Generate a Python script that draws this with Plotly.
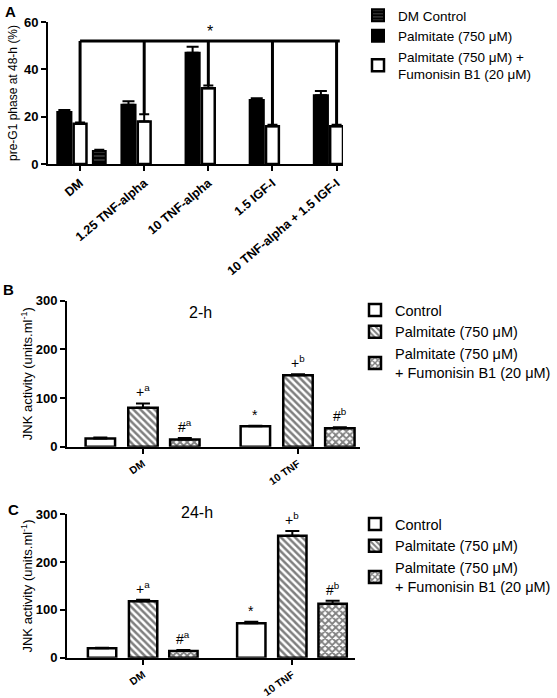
import plotly.graph_objects as go

FONT = "Liberation Sans, Arial, sans-serif"
W, H = 557, 698

# ---------------- Data ----------------
a_categories = ["DM", "1.25 TNF-alpha", "10 TNF-alpha", "1.5 IGF-I", "10 TNF-alpha + 1.5 IGF-I"]
a_dm_control = [5.5, None, None, None, None]
a_dm_control_err = [0.5, None, None, None, None]
a_palmitate = [22, 25, 47, 27, 29]
a_palmitate_err = [0.8, 1.5, 2.5, 0.8, 1.8]
a_fumonisin = [17, 18, 32, 16, 16]
a_fumonisin_err = [0.5, 3.0, 1.2, 0.6, 0.6]
a_bracket_y = 52
a_star_y = 56

jnk_categories = ["DM", "10 TNF"]
b_control = [17, 42]
b_control_err = [2, 1]
b_palmitate = [80, 147]
b_palmitate_err = [9, 2]
b_fumonisin = [15, 38]
b_fumonisin_err = [3, 2]
b_marks = [["", "*"], ["+<sup>a</sup>", "+<sup>b</sup>"], ["#<sup>a</sup>", "#<sup>b</sup>"]]

c_control = [20, 72]
c_control_err = [1, 3]
c_palmitate = [118, 255]
c_palmitate_err = [3, 10]
c_fumonisin = [14, 113]
c_fumonisin_err = [2, 6]
c_marks = [["", "*"], ["+<sup>a</sup>", "+<sup>b</sup>"], ["#<sup>a</sup>", "#<sup>b</sup>"]]

a_ticks = [0, 20, 40, 60]
jnk_ticks = [0, 100, 200, 300]


def px_x(p):
    return p / W


def px_y(p):
    return 1 - p / H


fig = go.Figure()


def err(vals, e, w):
    return dict(type="data", array=e, arrayminus=[0 if v is not None else None for v in vals],
                symmetric=False, color="black", thickness=2, width=w)


# ---------------- Panel A ----------------
fig.add_trace(go.Bar(
    x=a_categories, y=a_dm_control, name="DM Control", xaxis="x", yaxis="y",
    offset=0.3 - 0.1, width=0.2, legend="legend",
    marker=dict(color="black", line=dict(color="black", width=2),
                pattern=dict(shape="-", fgcolor="#9a9a9a", bgcolor="black", size=4, solidity=0.3)),
    error_y=err(a_dm_control, a_dm_control_err, 5)))
fig.add_trace(go.Bar(
    x=a_categories, y=a_palmitate, name="Palmitate (750 μM)", xaxis="x", yaxis="y",
    offset=-0.245 - 0.11, width=0.22, legend="legend",
    marker=dict(color="black", line=dict(color="black", width=2)),
    error_y=err(a_palmitate, a_palmitate_err, 6)))
fig.add_trace(go.Bar(
    x=a_categories, y=a_fumonisin, name="Palmitate (750 μM) +<br>Fumonisin B1 (20 μM)",
    xaxis="x", yaxis="y", offset=-0.1, width=0.2, legend="legend",
    marker=dict(color="white", line=dict(color="black", width=2.5)),
    error_y=err(a_fumonisin, a_fumonisin_err, 5)))

shapes = []
for i, (v, e) in enumerate(zip(a_fumonisin, a_fumonisin_err)):
    shapes.append(dict(type="line", xref="x", yref="y", x0=i, x1=i, y0=v + e, y1=a_bracket_y,
                       line=dict(color="black", width=3)))
shapes.append(dict(type="line", xref="x", yref="y", x0=0, x1=len(a_categories) - 1 + 0.05,
                   y0=a_bracket_y, y1=a_bracket_y, line=dict(color="black", width=3)))

annotations = [
    dict(x=2, y=a_star_y, xref="x", yref="y", text="*", showarrow=False, xshift=2,
         font=dict(family=FONT, size=16, color="black")),
    dict(x=0.005, y=px_y(1), xref="paper", yref="paper", text="<b>A</b>", showarrow=False,
         xanchor="left", yanchor="top", font=dict(family=FONT, size=15, color="black")),
    dict(x=0.002, y=px_y(279), xref="paper", yref="paper", text="<b>B</b>", showarrow=False,
         xanchor="left", yanchor="top", font=dict(family=FONT, size=15, color="black")),
    dict(x=0.010, y=px_y(499), xref="paper", yref="paper", text="<b>C</b>", showarrow=False,
         xanchor="left", yanchor="top", font=dict(family=FONT, size=15, color="black")),
]

# ---------------- Panels B and C ----------------
centers = [-0.275, 0.0, 0.27]
bw = 0.19


def jnk_panel(ctrl, ctrl_e, palm, palm_e, fum, fum_e, marks, xa, ya, leg):
    series = [
        ("Control", ctrl, ctrl_e, dict(color="white", line=dict(color="black", width=2.5))),
        ("Palmitate (750 μM)", palm, palm_e,
         dict(color="white", line=dict(color="black", width=2.5),
              pattern=dict(shape="\\", fgcolor="black", bgcolor="white", size=5, solidity=0.5))),
        ("Palmitate (750 μM)<br>+ Fumonisin B1 (20 μM)", fum, fum_e,
         dict(color="white", line=dict(color="black", width=2.5),
              pattern=dict(shape="x", fgcolor="black", bgcolor="white", size=5, solidity=0.6))),
    ]
    for k, (name, vals, e, mk) in enumerate(series):
        fig.add_trace(go.Bar(
            x=jnk_categories, y=vals, name=name, xaxis=xa, yaxis=ya, legend=leg,
            offset=centers[k] - bw / 2, width=bw, marker=mk,
            error_y=err(vals, e, 7)))
        for i, (v, ee) in enumerate(zip(vals, e)):
            if marks[k][i]:
                annotations.append(dict(
                    x=i + centers[k], y=v + ee, xref=xa, yref=ya, text=marks[k][i],
                    showarrow=False, yanchor="bottom", yshift=1,
                    font=dict(family=FONT, size=14, color="black")))


jnk_panel(b_control, b_control_err, b_palmitate, b_palmitate_err, b_fumonisin, b_fumonisin_err,
          b_marks, "x2", "y2", "legend2")
jnk_panel(c_control, c_control_err, c_palmitate, c_palmitate_err, c_fumonisin, c_fumonisin_err,
          c_marks, "x3", "y3", "legend3")

annotations += [
    dict(x=px_x(200), y=px_y(312), xref="paper", yref="paper", text="2-h", showarrow=False,
         font=dict(family=FONT, size=16, color="black")),
    dict(x=px_x(197), y=px_y(523), xref="paper", yref="paper", text="24-h", showarrow=False,
         font=dict(family=FONT, size=16, color="black")),
]

xcommon = dict(showline=True, linecolor="black", linewidth=2, ticks="outside", tickwidth=2,
               ticklen=5, tickcolor="black", tickangle=-35, showgrid=False, zeroline=False,
               automargin=False,
               tickfont=dict(family=FONT, size=10.5, color="black", weight="bold"), fixedrange=True)
ycommon = dict(showline=True, linecolor="black", linewidth=2, ticks="outside", tickwidth=2,
               ticklen=5, tickcolor="black", showgrid=False, zeroline=False, automargin=False,
               tickfont=dict(family=FONT, size=13, color="black", weight="bold"), fixedrange=True)

legcommon = dict(font=dict(family=FONT, size=14.5, color="black"), bgcolor="rgba(0,0,0,0)",
                 xanchor="left", yanchor="top", tracegroupgap=0, itemwidth=30)

fig.update_layout(
    width=W, height=H, margin=dict(l=0, r=0, t=0, b=0, autoexpand=False),
    paper_bgcolor="white", plot_bgcolor="white", showlegend=True,
    font=dict(family=FONT, color="black"),
    xaxis=dict(xcommon, domain=[px_x(48), px_x(343)], range=[-0.5, 4.1], anchor="y",
               tickangle=-40,
               tickfont=dict(family=FONT, size=12.5, color="black", weight="bold")),
    yaxis=dict(ycommon, domain=[px_y(164), px_y(22)], range=[0, 60], tickvals=a_ticks,
               anchor="x",
               title=dict(text="pre-G1 phase at 48-h (%)", standoff=4,
                          font=dict(family=FONT, size=12, color="black"))),
    xaxis2=dict(xcommon, domain=[px_x(67), px_x(360)], range=[-0.49, 1.4], anchor="y2"),
    yaxis2=dict(ycommon, domain=[px_y(446.7), px_y(300.7)], range=[0, 300], tickvals=jnk_ticks,
                anchor="x2",
                title=dict(text="JNK activity (units.ml<sup>-1</sup>)", standoff=0,
                           font=dict(family=FONT, size=13, color="black"))),
    xaxis3=dict(xcommon, domain=[px_x(67), px_x(355)], range=[-0.51, 1.42], anchor="y3"),
    yaxis3=dict(ycommon, domain=[px_y(657.7), px_y(514.3)], range=[0, 300], tickvals=jnk_ticks,
                anchor="x3",
                title=dict(text="JNK activity (units.ml<sup>-1</sup>)", standoff=0,
                           font=dict(family=FONT, size=13, color="black"))),
    legend=dict(legcommon, x=px_x(358), y=1.0, font=dict(size=13.5)),
    legend2=dict(legcommon, x=px_x(355), y=px_y(294)),
    legend3=dict(legcommon, x=px_x(355), y=px_y(508)),
    shapes=shapes,
    annotations=annotations,
)

fig.write_html("out.html", config={"displayModeBar": False},
               post_script="document.body.style.margin='0';document.body.style.overflow='hidden';")
